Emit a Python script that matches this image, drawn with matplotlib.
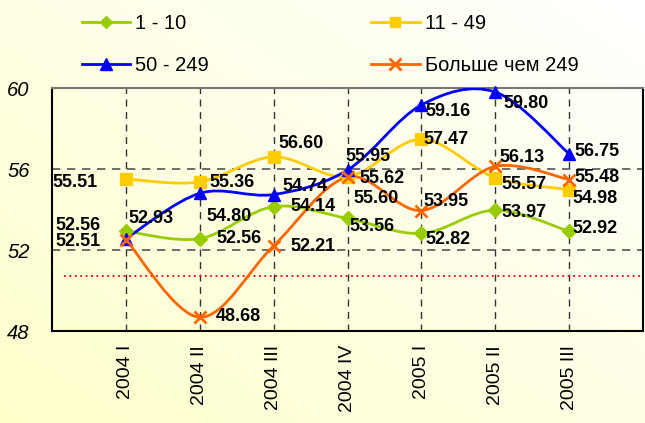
import numpy as np
import matplotlib
matplotlib.use("Agg")
import matplotlib.pyplot as plt
from matplotlib.path import Path
from matplotlib.patches import PathPatch
from matplotlib.lines import Line2D

plt.rcParams['font.family'] = ['Liberation Sans', 'DejaVu Sans']

categories = ["2004 I", "2004 II", "2004 III", "2004 IV", "2005 I", "2005 II", "2005 III"]
series_names = ["1 - 10", "11 - 49", "50 - 249", "Больше чем 249"]
s_1_10 = [52.93, 52.56, 54.14, 53.56, 52.82, 53.97, 52.92]
s_11_49 = [55.51, 55.36, 56.60, 55.62, 57.47, 55.57, 54.98]
s_50_249 = [52.56, 54.80, 54.74, 55.95, 59.16, 59.80, 56.75]
s_250 = [52.51, 48.68, 52.21, 55.60, 53.95, 56.13, 55.48]
ref_level = 50.73
y_ticks = [48, 52, 56, 60]

# styles
colors = ["#99CC00", "#FFCC00", "#0000FF", "#FF6600"]
markers = ["D", "s", "^", "x"]
msizes = [7.5, 8.5, 9, 9]
# label offsets in pixels (dx right, dy down)
label_offsets = [
    [(25, -13), (39, 0), (39, 0), (25, 8), (27, 6), (29, 2), (26, -3)],
    [(-51, 4), (32, 1), (27, -13), (35, 2), (25, 0), (29, 7), (26, 9)],
    [(-48, -13), (29, 23), (31, -8), (20, -14), (27, 6), (31, 11), (28, -2)],
    [(-48, 2), (39, -1), (39, 1), (29, 21), (25, -9), (27, -9), (28, -2)],
]

W, H = 645, 423
fig = plt.figure(figsize=(W / 100, H / 100), dpi=100)

# background gradient (bottom-left light yellow -> top-right white)
bg = fig.add_axes([0, 0, 1, 1], zorder=-10)
gx, gy = np.meshgrid(np.linspace(0, 1, 200), np.linspace(0, 1, 200))
t = np.clip((gx + gy) / 2.0, 0, 1)
c0 = np.array([1.0, 1.0, 0.80])
c1 = np.array([1.0, 1.0, 1.0])
img = c0[None, None, :] * (1 - t[..., None]) + c1[None, None, :] * t[..., None]
bg.imshow(img, origin='lower', extent=[0, 1, 0, 1], aspect='auto')
bg.axis('off')

ax = fig.add_axes([52 / W, 1 - 331 / H, (643 - 52) / W, (331 - 88) / H])
ax.set_facecolor('none')
x = np.arange(len(categories))
ax.set_xlim(-1, len(categories))
ax.set_ylim(48, 60)


def smooth_path(xs, ys):
    pts = np.column_stack([xs, ys]).astype(float)
    n = len(pts)
    verts = [pts[0]]
    codes = [Path.MOVETO]
    for i in range(n - 1):
        p0 = pts[i - 1] if i > 0 else pts[i]
        p1 = pts[i]
        p2 = pts[i + 1]
        p3 = pts[i + 2] if i + 2 < n else pts[i + 1]
        c1_ = p1 + (p2 - p0) / 6.0
        c2_ = p2 - (p3 - p1) / 6.0
        verts += [c1_, c2_, p2]
        codes += [Path.CURVE4] * 3
    return Path(verts, codes)


# grid lines
for xi in x:
    ax.axvline(xi, color='#333333', lw=1, ls=(0, (5, 4)), zorder=1)
for yv in [52, 56]:
    ax.axhline(yv, color='#555555', lw=1.2, ls=(0, (5, 4)), zorder=1)
ax.axhline(ref_level, xmin=0.02, xmax=1, color='#FF0000', lw=1.3, ls=(0, (1, 2)), zorder=1)

all_series = [s_1_10, s_11_49, s_50_249, s_250]
handles = []
for k, ys in enumerate(all_series):
    col = colors[k]
    patch = PathPatch(smooth_path(x, ys), facecolor='none', edgecolor=col, lw=2, zorder=3)
    ax.add_patch(patch)
    mew = 2 if markers[k] == 'x' else 1
    ax.plot(x, ys, ls='none', marker=markers[k], ms=msizes[k], color=col,
            mec=col, mew=mew, zorder=4, clip_on=False)
    handles.append(Line2D([], [], color=col, lw=2, marker=markers[k], ms=msizes[k] - 1,
                          mew=mew))
    for i, v in enumerate(ys):
        dx, dy = label_offsets[k][i]
        ax.annotate(f"{v:.2f}", (x[i], v), xytext=(dx, -dy), textcoords='offset pixels',
                    ha='center', va='center', fontsize=13, fontweight='bold',
                    color='black', zorder=6, annotation_clip=False)

ax.set_yticks(y_ticks)
ax.set_yticklabels([str(v) for v in y_ticks], fontsize=14.5, style='italic')
ax.set_xticks(x)
ax.set_xticklabels(categories, rotation=90, fontsize=14, va='top', ha='center')
ax.tick_params(axis='y', length=0, pad=16)
ax.tick_params(axis='x', length=0, pad=10)
for side in ['left', 'bottom', 'right']:
    ax.spines[side].set_color('black')
    ax.spines[side].set_linewidth(1.5)
ax.spines['top'].set_color('#777777')
ax.spines['top'].set_linewidth(1.5)

order = [0, 2, 1, 3]
fig.legend([handles[i] for i in order], [series_names[i] for i in order],
           loc='upper left', bbox_to_anchor=(82 / W, 1 - 14 / H), ncol=2, frameon=False,
           fontsize=14.5, handlelength=2.4, handletextpad=0.25, columnspacing=8.05,
           labelspacing=1.15, borderpad=0, borderaxespad=0)

fig.savefig("out.png", dpi=100)
